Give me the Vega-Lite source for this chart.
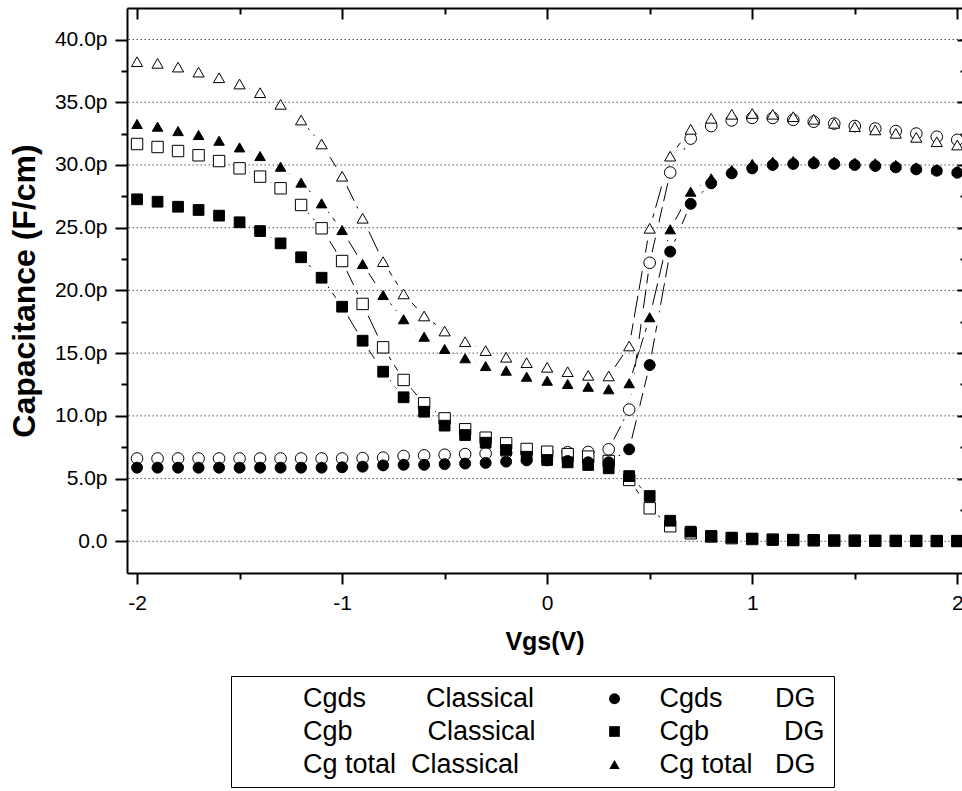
{
  "$schema": "https://vega.github.io/schema/vega-lite/v6.json",
  "autosize": {"type": "none"},
  "padding": {"left": 127, "top": 8, "right": 0, "bottom": 218},
  "width": 835,
  "height": 565,
  "background": "white",
  "datasets": {
    "grid": [{"g": 0}, {"g": 5}, {"g": 10}, {"g": 15}, {"g": 20}, {"g": 25}, {"g": 30}, {"g": 35}, {"g": 40}],
    "pts": [
      {"x": -2, "s": "Cgds Classical", "v": 6.6}, {"x": -1.9, "s": "Cgds Classical", "v": 6.6}, {"x": -1.8, "s": "Cgds Classical", "v": 6.6}, {"x": -1.7, "s": "Cgds Classical", "v": 6.6}, {"x": -1.6, "s": "Cgds Classical", "v": 6.6}, {"x": -1.5, "s": "Cgds Classical", "v": 6.6}, {"x": -1.4, "s": "Cgds Classical", "v": 6.6}, {"x": -1.3, "s": "Cgds Classical", "v": 6.6}, {"x": -1.2, "s": "Cgds Classical", "v": 6.6}, {"x": -1.1, "s": "Cgds Classical", "v": 6.6},
      {"x": -1, "s": "Cgds Classical", "v": 6.6}, {"x": -0.9, "s": "Cgds Classical", "v": 6.63}, {"x": -0.8, "s": "Cgds Classical", "v": 6.67}, {"x": -0.7, "s": "Cgds Classical", "v": 6.8}, {"x": -0.6, "s": "Cgds Classical", "v": 6.85}, {"x": -0.5, "s": "Cgds Classical", "v": 6.9}, {"x": -0.4, "s": "Cgds Classical", "v": 6.95}, {"x": -0.3, "s": "Cgds Classical", "v": 7.0}, {"x": -0.2, "s": "Cgds Classical", "v": 7.05}, {"x": -0.1, "s": "Cgds Classical", "v": 7.08},
      {"x": 0, "s": "Cgds Classical", "v": 7.1}, {"x": 0.1, "s": "Cgds Classical", "v": 7.1}, {"x": 0.2, "s": "Cgds Classical", "v": 7.12}, {"x": 0.3, "s": "Cgds Classical", "v": 7.33}, {"x": 0.4, "s": "Cgds Classical", "v": 10.5}, {"x": 0.5, "s": "Cgds Classical", "v": 22.2}, {"x": 0.6, "s": "Cgds Classical", "v": 29.4}, {"x": 0.7, "s": "Cgds Classical", "v": 32.1}, {"x": 0.8, "s": "Cgds Classical", "v": 33.1}, {"x": 0.9, "s": "Cgds Classical", "v": 33.55},
      {"x": 1, "s": "Cgds Classical", "v": 33.75}, {"x": 1.1, "s": "Cgds Classical", "v": 33.75}, {"x": 1.2, "s": "Cgds Classical", "v": 33.6}, {"x": 1.3, "s": "Cgds Classical", "v": 33.45}, {"x": 1.4, "s": "Cgds Classical", "v": 33.3}, {"x": 1.5, "s": "Cgds Classical", "v": 33.1}, {"x": 1.6, "s": "Cgds Classical", "v": 32.9}, {"x": 1.7, "s": "Cgds Classical", "v": 32.7}, {"x": 1.8, "s": "Cgds Classical", "v": 32.5}, {"x": 1.9, "s": "Cgds Classical", "v": 32.25}, {"x": 2, "s": "Cgds Classical", "v": 32.0},

      {"x": -2, "s": "Cgb Classical", "v": 31.67}, {"x": -1.9, "s": "Cgb Classical", "v": 31.43}, {"x": -1.8, "s": "Cgb Classical", "v": 31.11}, {"x": -1.7, "s": "Cgb Classical", "v": 30.77}, {"x": -1.6, "s": "Cgb Classical", "v": 30.31}, {"x": -1.5, "s": "Cgb Classical", "v": 29.73}, {"x": -1.4, "s": "Cgb Classical", "v": 29.07}, {"x": -1.3, "s": "Cgb Classical", "v": 28.14}, {"x": -1.2, "s": "Cgb Classical", "v": 26.81}, {"x": -1.1, "s": "Cgb Classical", "v": 24.95},
      {"x": -1, "s": "Cgb Classical", "v": 22.34}, {"x": -0.9, "s": "Cgb Classical", "v": 18.92}, {"x": -0.8, "s": "Cgb Classical", "v": 15.46}, {"x": -0.7, "s": "Cgb Classical", "v": 12.86}, {"x": -0.6, "s": "Cgb Classical", "v": 11.0}, {"x": -0.5, "s": "Cgb Classical", "v": 9.8}, {"x": -0.4, "s": "Cgb Classical", "v": 8.93}, {"x": -0.3, "s": "Cgb Classical", "v": 8.26}, {"x": -0.2, "s": "Cgb Classical", "v": 7.81}, {"x": -0.1, "s": "Cgb Classical", "v": 7.36},
      {"x": 0, "s": "Cgb Classical", "v": 7.14}, {"x": 0.1, "s": "Cgb Classical", "v": 6.95}, {"x": 0.2, "s": "Cgb Classical", "v": 6.75}, {"x": 0.3, "s": "Cgb Classical", "v": 6.4}, {"x": 0.4, "s": "Cgb Classical", "v": 4.89}, {"x": 0.5, "s": "Cgb Classical", "v": 2.63}, {"x": 0.6, "s": "Cgb Classical", "v": 1.2}, {"x": 0.7, "s": "Cgb Classical", "v": 0.64}, {"x": 0.8, "s": "Cgb Classical", "v": 0.38}, {"x": 0.9, "s": "Cgb Classical", "v": 0.25},
      {"x": 1, "s": "Cgb Classical", "v": 0.18}, {"x": 1.1, "s": "Cgb Classical", "v": 0.13}, {"x": 1.2, "s": "Cgb Classical", "v": 0.1}, {"x": 1.3, "s": "Cgb Classical", "v": 0.08}, {"x": 1.4, "s": "Cgb Classical", "v": 0.06}, {"x": 1.5, "s": "Cgb Classical", "v": 0.05}, {"x": 1.6, "s": "Cgb Classical", "v": 0.04}, {"x": 1.7, "s": "Cgb Classical", "v": 0.03}, {"x": 1.8, "s": "Cgb Classical", "v": 0.03}, {"x": 1.9, "s": "Cgb Classical", "v": 0.02}, {"x": 2, "s": "Cgb Classical", "v": 0.02},

      {"x": -2, "s": "Cg total Classical", "v": 38.23}, {"x": -1.9, "s": "Cg total Classical", "v": 38.1}, {"x": -1.8, "s": "Cg total Classical", "v": 37.8}, {"x": -1.7, "s": "Cg total Classical", "v": 37.4}, {"x": -1.6, "s": "Cg total Classical", "v": 36.95}, {"x": -1.5, "s": "Cg total Classical", "v": 36.45}, {"x": -1.4, "s": "Cg total Classical", "v": 35.76}, {"x": -1.3, "s": "Cg total Classical", "v": 34.83}, {"x": -1.2, "s": "Cg total Classical", "v": 33.58}, {"x": -1.1, "s": "Cg total Classical", "v": 31.67},
      {"x": -1, "s": "Cg total Classical", "v": 29.1}, {"x": -0.9, "s": "Cg total Classical", "v": 25.75}, {"x": -0.8, "s": "Cg total Classical", "v": 22.29}, {"x": -0.7, "s": "Cg total Classical", "v": 19.72}, {"x": -0.6, "s": "Cg total Classical", "v": 17.96}, {"x": -0.5, "s": "Cg total Classical", "v": 16.76}, {"x": -0.4, "s": "Cg total Classical", "v": 15.91}, {"x": -0.3, "s": "Cg total Classical", "v": 15.2}, {"x": -0.2, "s": "Cg total Classical", "v": 14.67}, {"x": -0.1, "s": "Cg total Classical", "v": 14.24},
      {"x": 0, "s": "Cg total Classical", "v": 13.87}, {"x": 0.1, "s": "Cg total Classical", "v": 13.52}, {"x": 0.2, "s": "Cg total Classical", "v": 13.23}, {"x": 0.3, "s": "Cg total Classical", "v": 13.18}, {"x": 0.4, "s": "Cg total Classical", "v": 15.57}, {"x": 0.5, "s": "Cg total Classical", "v": 24.95}, {"x": 0.6, "s": "Cg total Classical", "v": 30.7}, {"x": 0.7, "s": "Cg total Classical", "v": 32.84}, {"x": 0.8, "s": "Cg total Classical", "v": 33.72}, {"x": 0.9, "s": "Cg total Classical", "v": 34.04},
      {"x": 1, "s": "Cg total Classical", "v": 34.1}, {"x": 1.1, "s": "Cg total Classical", "v": 34.04}, {"x": 1.2, "s": "Cg total Classical", "v": 33.85}, {"x": 1.3, "s": "Cg total Classical", "v": 33.64}, {"x": 1.4, "s": "Cg total Classical", "v": 33.32}, {"x": 1.5, "s": "Cg total Classical", "v": 33.05}, {"x": 1.6, "s": "Cg total Classical", "v": 32.79}, {"x": 1.7, "s": "Cg total Classical", "v": 32.52}, {"x": 1.8, "s": "Cg total Classical", "v": 32.2}, {"x": 1.9, "s": "Cg total Classical", "v": 31.85}, {"x": 2, "s": "Cg total Classical", "v": 31.59},

      {"x": -2, "s": "Cgds DG", "v": 5.87}, {"x": -1.9, "s": "Cgds DG", "v": 5.87}, {"x": -1.8, "s": "Cgds DG", "v": 5.87}, {"x": -1.7, "s": "Cgds DG", "v": 5.87}, {"x": -1.6, "s": "Cgds DG", "v": 5.87}, {"x": -1.5, "s": "Cgds DG", "v": 5.87}, {"x": -1.4, "s": "Cgds DG", "v": 5.87}, {"x": -1.3, "s": "Cgds DG", "v": 5.87}, {"x": -1.2, "s": "Cgds DG", "v": 5.87}, {"x": -1.1, "s": "Cgds DG", "v": 5.87},
      {"x": -1, "s": "Cgds DG", "v": 5.9}, {"x": -0.9, "s": "Cgds DG", "v": 5.95}, {"x": -0.8, "s": "Cgds DG", "v": 6.05}, {"x": -0.7, "s": "Cgds DG", "v": 6.1}, {"x": -0.6, "s": "Cgds DG", "v": 6.1}, {"x": -0.5, "s": "Cgds DG", "v": 6.15}, {"x": -0.4, "s": "Cgds DG", "v": 6.2}, {"x": -0.3, "s": "Cgds DG", "v": 6.25}, {"x": -0.2, "s": "Cgds DG", "v": 6.35}, {"x": -0.1, "s": "Cgds DG", "v": 6.45},
      {"x": 0, "s": "Cgds DG", "v": 6.45}, {"x": 0.1, "s": "Cgds DG", "v": 6.4}, {"x": 0.2, "s": "Cgds DG", "v": 6.3}, {"x": 0.3, "s": "Cgds DG", "v": 6.3}, {"x": 0.4, "s": "Cgds DG", "v": 7.33}, {"x": 0.5, "s": "Cgds DG", "v": 14.05}, {"x": 0.6, "s": "Cgds DG", "v": 23.09}, {"x": 0.7, "s": "Cgds DG", "v": 26.9}, {"x": 0.8, "s": "Cgds DG", "v": 28.54}, {"x": 0.9, "s": "Cgds DG", "v": 29.33},
      {"x": 1, "s": "Cgds DG", "v": 29.73}, {"x": 1.1, "s": "Cgds DG", "v": 30.0}, {"x": 1.2, "s": "Cgds DG", "v": 30.08}, {"x": 1.3, "s": "Cgds DG", "v": 30.13}, {"x": 1.4, "s": "Cgds DG", "v": 30.08}, {"x": 1.5, "s": "Cgds DG", "v": 30.0}, {"x": 1.6, "s": "Cgds DG", "v": 29.92}, {"x": 1.7, "s": "Cgds DG", "v": 29.81}, {"x": 1.8, "s": "Cgds DG", "v": 29.65}, {"x": 1.9, "s": "Cgds DG", "v": 29.54}, {"x": 2, "s": "Cgds DG", "v": 29.38},

      {"x": -2, "s": "Cgb DG", "v": 27.26}, {"x": -1.9, "s": "Cgb DG", "v": 27.07}, {"x": -1.8, "s": "Cgb DG", "v": 26.67}, {"x": -1.7, "s": "Cgb DG", "v": 26.41}, {"x": -1.6, "s": "Cgb DG", "v": 25.96}, {"x": -1.5, "s": "Cgb DG", "v": 25.43}, {"x": -1.4, "s": "Cgb DG", "v": 24.73}, {"x": -1.3, "s": "Cgb DG", "v": 23.75}, {"x": -1.2, "s": "Cgb DG", "v": 22.64}, {"x": -1.1, "s": "Cgb DG", "v": 21.01},
      {"x": -1, "s": "Cgb DG", "v": 18.7}, {"x": -0.9, "s": "Cgb DG", "v": 15.99}, {"x": -0.8, "s": "Cgb DG", "v": 13.52}, {"x": -0.7, "s": "Cgb DG", "v": 11.48}, {"x": -0.6, "s": "Cgb DG", "v": 10.33}, {"x": -0.5, "s": "Cgb DG", "v": 9.22}, {"x": -0.4, "s": "Cgb DG", "v": 8.47}, {"x": -0.3, "s": "Cgb DG", "v": 7.86}, {"x": -0.2, "s": "Cgb DG", "v": 7.28}, {"x": -0.1, "s": "Cgb DG", "v": 6.74},
      {"x": 0, "s": "Cgb DG", "v": 6.48}, {"x": 0.1, "s": "Cgb DG", "v": 6.29}, {"x": 0.2, "s": "Cgb DG", "v": 6.08}, {"x": 0.3, "s": "Cgb DG", "v": 5.82}, {"x": 0.4, "s": "Cgb DG", "v": 5.2}, {"x": 0.5, "s": "Cgb DG", "v": 3.61}, {"x": 0.6, "s": "Cgb DG", "v": 1.64}, {"x": 0.7, "s": "Cgb DG", "v": 0.77}, {"x": 0.8, "s": "Cgb DG", "v": 0.42}, {"x": 0.9, "s": "Cgb DG", "v": 0.29},
      {"x": 1, "s": "Cgb DG", "v": 0.21}, {"x": 1.1, "s": "Cgb DG", "v": 0.13}, {"x": 1.2, "s": "Cgb DG", "v": 0.1}, {"x": 1.3, "s": "Cgb DG", "v": 0.08}, {"x": 1.4, "s": "Cgb DG", "v": 0.06}, {"x": 1.5, "s": "Cgb DG", "v": 0.05}, {"x": 1.6, "s": "Cgb DG", "v": 0.04}, {"x": 1.7, "s": "Cgb DG", "v": 0.04}, {"x": 1.8, "s": "Cgb DG", "v": 0.03}, {"x": 1.9, "s": "Cgb DG", "v": 0.03}, {"x": 2, "s": "Cgb DG", "v": 0.02},

      {"x": -2, "s": "Cg total DG", "v": 33.27}, {"x": -1.9, "s": "Cg total DG", "v": 33.05}, {"x": -1.8, "s": "Cg total DG", "v": 32.7}, {"x": -1.7, "s": "Cg total DG", "v": 32.39}, {"x": -1.6, "s": "Cg total DG", "v": 31.93}, {"x": -1.5, "s": "Cg total DG", "v": 31.4}, {"x": -1.4, "s": "Cg total DG", "v": 30.71}, {"x": -1.3, "s": "Cg total DG", "v": 29.86}, {"x": -1.2, "s": "Cg total DG", "v": 28.59}, {"x": -1.1, "s": "Cg total DG", "v": 26.94},
      {"x": -1, "s": "Cg total DG", "v": 24.81}, {"x": -0.9, "s": "Cg total DG", "v": 22.1}, {"x": -0.8, "s": "Cg total DG", "v": 19.63}, {"x": -0.7, "s": "Cg total DG", "v": 17.7}, {"x": -0.6, "s": "Cg total DG", "v": 16.31}, {"x": -0.5, "s": "Cg total DG", "v": 15.33}, {"x": -0.4, "s": "Cg total DG", "v": 14.59}, {"x": -0.3, "s": "Cg total DG", "v": 13.97}, {"x": -0.2, "s": "Cg total DG", "v": 13.6}, {"x": -0.1, "s": "Cg total DG", "v": 13.12},
      {"x": 0, "s": "Cg total DG", "v": 12.8}, {"x": 0.1, "s": "Cg total DG", "v": 12.54}, {"x": 0.2, "s": "Cg total DG", "v": 12.32}, {"x": 0.3, "s": "Cg total DG", "v": 12.12}, {"x": 0.4, "s": "Cg total DG", "v": 12.6}, {"x": 0.5, "s": "Cg total DG", "v": 17.86}, {"x": 0.6, "s": "Cg total DG", "v": 24.87}, {"x": 0.7, "s": "Cg total DG", "v": 27.87}, {"x": 0.8, "s": "Cg total DG", "v": 28.93}, {"x": 0.9, "s": "Cg total DG", "v": 29.6},
      {"x": 1, "s": "Cg total DG", "v": 30.08}, {"x": 1.1, "s": "Cg total DG", "v": 30.26}, {"x": 1.2, "s": "Cg total DG", "v": 30.31}, {"x": 1.3, "s": "Cg total DG", "v": 30.34}, {"x": 1.4, "s": "Cg total DG", "v": 30.26}, {"x": 1.5, "s": "Cg total DG", "v": 30.18}, {"x": 1.6, "s": "Cg total DG", "v": 30.13}, {"x": 1.7, "s": "Cg total DG", "v": 30.0}, {"x": 1.8, "s": "Cg total DG", "v": 29.81}, {"x": 1.9, "s": "Cg total DG", "v": 29.65}, {"x": 2, "s": "Cg total DG", "v": 29.54}
    ]
  },
  "layer": [
    {
      "data": {"name": "pts"},
      "mark": {"type": "line", "color": "black", "strokeWidth": 1, "strokeDash": [22, 6]},
      "encoding": {
        "x": {"field": "x", "type": "quantitative",
          "scale": {"domain": [-2.049, 2.023], "nice": false, "zero": false},
          "axis": {"orient": "bottom", "values": [-2, -1.5, -1, -0.5, 0, 0.5, 1, 1.5, 2],
            "labelExpr": "datum.value % 1 === 0 ? '' + datum.value : ''",
            "tickSize": {"condition": {"test": "datum.value % 1 === 0", "value": 11}, "value": 6},
            "tickWidth": 2, "tickColor": "black", "domainColor": "black", "domainWidth": 2, "grid": false,
            "labelFontSize": 21, "labelColor": "black", "labelPadding": 8, "labelFlush": false, "labelOverlap": false,
            "title": "Vgs(V)", "titleFontSize": 25, "titleFontWeight": "bold", "titleColor": "black", "titlePadding": 16, "zindex": 1}},
        "y": {"field": "v", "type": "quantitative",
          "scale": {"domain": [-2.527, 42.511], "nice": false, "zero": false},
          "axis": {"orient": "left", "values": [0, 2.5, 5, 7.5, 10, 12.5, 15, 17.5, 20, 22.5, 25, 27.5, 30, 32.5, 35, 37.5, 40],
            "labelExpr": "datum.value === 0 ? '0.0' : (datum.value % 5 === 0 ? datum.value + '.0p' : '')",
            "tickSize": {"condition": {"test": "datum.value % 5 === 0", "value": 12}, "value": 6},
            "tickWidth": 2, "tickColor": "black", "domainColor": "black", "domainWidth": 2, "grid": false,
            "labelFontSize": 21, "labelColor": "black", "labelPadding": 8, "labelFlush": false, "labelOverlap": false,
            "title": "Capacitance (F/cm)", "titleFontSize": 32, "titleFontWeight": "bold", "titleColor": "black", "titlePadding": 13, "zindex": 1}},
        "detail": {"field": "s"}
      }
    },
    {
      "data": {"name": "pts"},
      "mark": {"type": "point", "filled": true, "color": "white", "opacity": 1, "size": 484, "shape": "circle", "strokeWidth": 0},
      "encoding": {
        "x": {"field": "x", "type": "quantitative",
          "scale": {"domain": [-2.049, 2.023], "nice": false, "zero": false},
          "axis": {"orient": "top", "values": [-2, -1.5, -1, -0.5, 0, 0.5, 1, 1.5, 2], "labels": false, "title": null,
            "tickSize": {"condition": {"test": "datum.value % 1 === 0", "value": -11}, "value": -6},
            "tickWidth": 2, "tickColor": "black", "domainColor": "black", "domainWidth": 2, "grid": false, "zindex": 1}},
        "y": {"field": "v", "type": "quantitative",
          "scale": {"domain": [-2.527, 42.511], "nice": false, "zero": false},
          "axis": {"orient": "right", "values": [0, 2.5, 5, 7.5, 10, 12.5, 15, 17.5, 20, 22.5, 25, 27.5, 30, 32.5, 35, 37.5, 40], "labels": false, "title": null, "domain": false,
            "tickSize": {"condition": {"test": "datum.value % 5 === 0", "value": -5}, "value": -2},
            "tickWidth": 2, "tickColor": "black", "grid": false, "zindex": 1}},
        "detail": {"field": "s"}
      }
    },
    {
      "data": {"name": "grid"},
      "mark": {"type": "rule", "color": "#555555", "strokeWidth": 1, "strokeDash": [1.5, 2.5]},
      "encoding": {
        "y": {"field": "g", "type": "quantitative", "scale": {"domain": [-2.527, 42.511], "nice": false, "zero": false}, "axis": null}
      }
    },
    {
      "data": {"name": "pts"},
      "mark": {"type": "point", "filled": true, "stroke": "black", "strokeWidth": 1, "opacity": 1},
      "encoding": {
        "x": {"field": "x", "type": "quantitative", "scale": {"domain": [-2.049, 2.023], "nice": false, "zero": false}, "axis": null},
        "y": {"field": "v", "type": "quantitative", "scale": {"domain": [-2.527, 42.511], "nice": false, "zero": false}, "axis": null},
        "shape": {"field": "s", "type": "nominal",
          "scale": {"domain": ["Cgds Classical", "Cgb Classical", "Cg total Classical", "Cgds DG", "Cgb DG", "Cg total DG"],
                    "range": ["circle", "square", "triangle-up", "circle", "square", "triangle-up"]},
          "legend": {"orient": "none", "legendX": 104, "legendY": 668, "columns": 2, "gridAlign": "all", "title": null,
            "symbolStrokeWidth": 1, "symbolStrokeColor": "black", "symbolOffset": 4.5, "labelOffset": 31.5,
            "labelFontSize": 27, "labelFont": "Liberation Sans", "labelColor": "black", "labelLimit": 600,
            "rowPadding": 5, "columnPadding": 60.5, "padding": 9, "strokeColor": "black", "fillColor": "white",
            "labelExpr": "datum.value === 'Cgds Classical' ? 'Cgds\u00a0\u00a0\u00a0\u00a0\u00a0\u00a0\u00a0\u00a0Classical' : datum.value === 'Cgds DG' ? 'Cgds\u00a0\u00a0\u00a0\u00a0\u00a0\u00a0\u00a0DG' : datum.value === 'Cgb Classical' ? 'Cgb\u00a0\u00a0\u00a0\u00a0\u00a0\u00a0\u00a0\u00a0\u00a0\u00a0Classical' : datum.value === 'Cgb DG' ? 'Cgb\u00a0\u00a0\u00a0\u00a0\u00a0\u00a0\u00a0\u00a0\u00a0\u00a0DG' : datum.value === 'Cg total Classical' ? 'Cg total\u00a0\u00a0Classical' : 'Cg total\u00a0\u00a0\u00a0DG'",
            "encode": {"symbols": {"stroke": {"value": "black"}, "strokeWidth": {"value": 1}, "opacity": {"value": 1}}}
          }},
        "fill": {"field": "s", "type": "nominal",
          "scale": {"domain": ["Cgds Classical", "Cgb Classical", "Cg total Classical", "Cgds DG", "Cgb DG", "Cg total DG"],
                    "range": ["white", "white", "white", "black", "black", "black"]},
          "legend": {"orient": "none", "legendX": 104, "legendY": 668, "columns": 2, "gridAlign": "all", "title": null,
            "symbolStrokeWidth": 1, "symbolStrokeColor": "black", "symbolOffset": 4.5, "labelOffset": 31.5,
            "labelFontSize": 27, "labelFont": "Liberation Sans", "labelColor": "black", "labelLimit": 600,
            "rowPadding": 5, "columnPadding": 60.5, "padding": 9, "strokeColor": "black", "fillColor": "white",
            "labelExpr": "datum.value === 'Cgds Classical' ? 'Cgds\u00a0\u00a0\u00a0\u00a0\u00a0\u00a0\u00a0\u00a0Classical' : datum.value === 'Cgds DG' ? 'Cgds\u00a0\u00a0\u00a0\u00a0\u00a0\u00a0\u00a0DG' : datum.value === 'Cgb Classical' ? 'Cgb\u00a0\u00a0\u00a0\u00a0\u00a0\u00a0\u00a0\u00a0\u00a0\u00a0Classical' : datum.value === 'Cgb DG' ? 'Cgb\u00a0\u00a0\u00a0\u00a0\u00a0\u00a0\u00a0\u00a0\u00a0\u00a0DG' : datum.value === 'Cg total Classical' ? 'Cg total\u00a0\u00a0Classical' : 'Cg total\u00a0\u00a0\u00a0DG'",
            "encode": {"symbols": {"stroke": {"value": "black"}, "strokeWidth": {"value": 1}, "opacity": {"value": 1}}}
          }},
        "size": {"field": "s", "type": "nominal",
          "scale": {"domain": ["Cgds Classical", "Cgb Classical", "Cg total Classical", "Cgds DG", "Cgb DG", "Cg total DG"],
                    "range": [135, 110, 169, 135, 110, 169]},
          "legend": {"orient": "none", "legendX": 104, "legendY": 668, "columns": 2, "gridAlign": "all", "title": null,
            "symbolStrokeWidth": 1, "symbolStrokeColor": "black", "symbolOffset": 4.5, "labelOffset": 31.5,
            "labelFontSize": 27, "labelFont": "Liberation Sans", "labelColor": "black", "labelLimit": 600,
            "rowPadding": 5, "columnPadding": 60.5, "padding": 9, "strokeColor": "black", "fillColor": "white",
            "labelExpr": "datum.value === 'Cgds Classical' ? 'Cgds\u00a0\u00a0\u00a0\u00a0\u00a0\u00a0\u00a0\u00a0Classical' : datum.value === 'Cgds DG' ? 'Cgds\u00a0\u00a0\u00a0\u00a0\u00a0\u00a0\u00a0DG' : datum.value === 'Cgb Classical' ? 'Cgb\u00a0\u00a0\u00a0\u00a0\u00a0\u00a0\u00a0\u00a0\u00a0\u00a0Classical' : datum.value === 'Cgb DG' ? 'Cgb\u00a0\u00a0\u00a0\u00a0\u00a0\u00a0\u00a0\u00a0\u00a0\u00a0DG' : datum.value === 'Cg total Classical' ? 'Cg total\u00a0\u00a0Classical' : 'Cg total\u00a0\u00a0\u00a0DG'",
            "encode": {"symbols": {"stroke": {"value": "black"}, "strokeWidth": {"value": 1}, "opacity": {"value": 1}}}
          }}
      }
    }
  ],
  "resolve": {"scale": {"x": "independent", "y": "independent"}},
  "config": {
    "view": {"stroke": null},
    "font": "Liberation Sans"
  }
}
